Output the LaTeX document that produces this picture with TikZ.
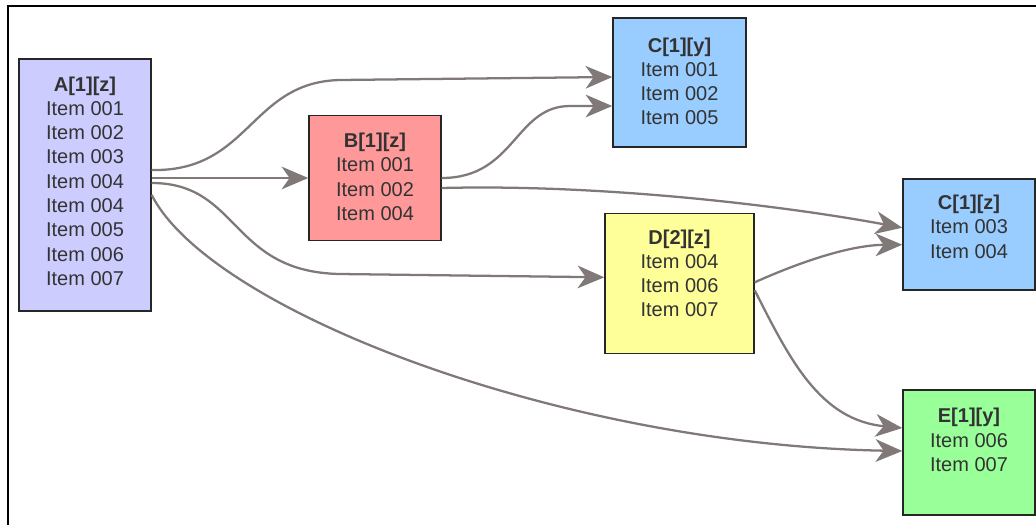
\documentclass[tikz,border=0pt]{standalone}
\usepackage{fontspec}
\setmainfont{Liberation Sans}
\usetikzlibrary{arrows.meta,calc}

\definecolor{fillA}{RGB}{204,204,255}
\definecolor{fillB}{RGB}{255,153,153}
\definecolor{fillC}{RGB}{153,204,255}
\definecolor{fillD}{RGB}{255,255,153}
\definecolor{fillE}{RGB}{153,255,153}
\definecolor{linkgray}{RGB}{128,121,120}

\tikzset{
  item/.style={draw=black!85, line width=1.1pt, align=center, inner sep=0pt,
    text=black!80, font=\fontsize{15pt}{18.2pt}\selectfont},
  link/.style={draw=linkgray, line width=1.7pt,
    -{Stealth[length=20pt,width=17pt,inset=6pt]}}
}

\begin{document}
\begin{tikzpicture}[x=0.75pt,y=-0.75pt]
  \useasboundingbox (0,0) rectangle (1036,525);
  \fill[white] (0,0) rectangle (1036,525);
  \draw[line width=1.6pt] (8,525) -- (8,6) -- (1036,6);

  \node[item, fill=fillA, minimum width=99pt, minimum height=189pt, text depth=6pt]
    (A) at (85,185) {\textbf{A[1][z]}\\Item 001\\Item 002\\Item 003\\Item 004\\Item 004\\Item 005\\Item 006\\Item 007};
  \node[item, fill=fillB, minimum width=99pt, minimum height=93.75pt, text depth=2pt]
    (B) at (375,178) {\textbf{B[1][z]}\\Item 001\\Item 002\\Item 004};
  \node[item, fill=fillC, minimum width=99.75pt, minimum height=96.75pt, text depth=2pt]
    (Cy) at (679.5,82.5) {\textbf{C[1][y]}\\Item 001\\Item 002\\Item 005};
  \node[item, fill=fillD, minimum width=111.75pt, minimum height=105pt, text depth=15pt]
    (D) at (679.5,283.3) {\textbf{D[2][z]}\\Item 004\\Item 006\\Item 007};
  \node[item, fill=fillC, minimum width=99pt, minimum height=83.25pt, text depth=12pt]
    (Cz) at (969,234.7) {\textbf{C[1][z]}\\Item 003\\Item 004};
  \node[item, fill=fillE, minimum width=99pt, minimum height=93.75pt, text depth=19pt]
    (E) at (969,452.5) {\textbf{E[1][y]}\\Item 006\\Item 007};

  \begin{scope}[link]
    \draw ($(A.east)+(0,-15)$) .. controls (250,172) and (250,82) .. (340,80) -- ($(Cy.west)+(0,-5.5)$);
    \draw ($(A.east)+(0,-7)$) -- (B.west);
    \draw ($(A.east)+(0,-2)$) .. controls (240,183) and (230,272) .. (340,274) -- ($(D.west)+(0,-6)$);
    \draw ($(A.east)+(0,10)$) .. controls (210,310) and (560,445) .. ($(E.west)+(0,-1.5)$);
    \draw (B.east) .. controls (515,178) and (515,106) .. (570,106) -- ($(Cy.west)+(0,23.5)$);
    \draw ($(B.east)+(0,10)$) .. controls (600,184) and (780,205) .. ($(Cz.west)+(0,-7)$);
    \draw ($(D.east)+(0,-1)$) .. controls (800,262) and (850,245) .. ($(Cz.west)+(0,10)$);
    \draw ($(D.east)+(0,7)$) .. controls (790,360) and (820,420) .. ($(E.west)+(0,-24.5)$);
  \end{scope}
\end{tikzpicture}
\end{document}
